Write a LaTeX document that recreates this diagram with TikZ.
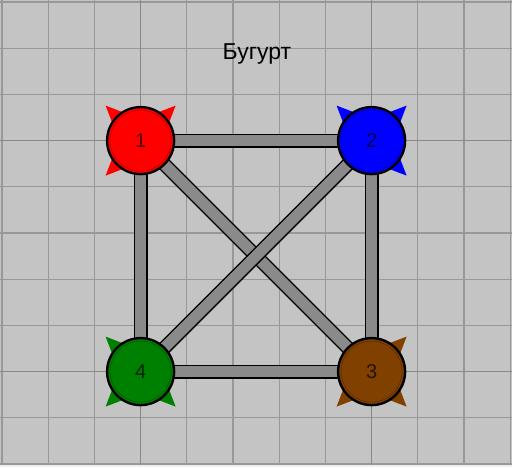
\documentclass[tikz,border=0pt]{standalone}
\usepackage{fontspec}
\setmainfont{Liberation Sans}
\usetikzlibrary{calc}
\pgfdeclarelayer{bg}
\pgfdeclarelayer{mid}
\pgfsetlayers{bg,mid,main}
\definecolor{bgc}{RGB}{196,196,196}
\definecolor{gridc}{RGB}{152,152,152}
\definecolor{gridd}{RGB}{136,136,136}
\definecolor{edgec}{RGB}{138,138,138}
\definecolor{nred}{RGB}{255,0,0}
\definecolor{nblue}{RGB}{0,0,255}
\definecolor{ngreen}{RGB}{0,128,0}
\definecolor{nbrown}{RGB}{128,64,0}
\tikzset{
  vertex/.style={circle, draw=black, line width=2.4pt, minimum size=67pt, inner sep=0pt,
    fill=#1, font=\fontsize{20}{20}\selectfont, text=black, text opacity=0.7},
  bar/.style={draw=black, line width=1.5pt, double=edgec, double distance=11pt},
  title/.style={font=\fontsize{23}{23}\selectfont, text=black}
}
\begin{document}
\begin{tikzpicture}[x=1pt,y=-1pt]
\useasboundingbox (0,0) rectangle (512,467);
% nodes
\node[vertex=nred]   (n1) at (140.6,140.6) {1};
\node[vertex=nblue]  (n2) at (371.6,140.6) {2};
\node[vertex=nbrown] (n3) at (371.6,371.6) {3};
\node[vertex=ngreen] (n4) at (140.6,371.6) {4};
\node[title] (t) at (257,54) {Бугурт};
\foreach \n/\c in {n1/nred,n2/nblue,n3/nbrown,n4/ngreen}{
  \draw[\c!75!black, line width=0.7pt] (\n.center) circle (30.5);
}
\begin{pgfonlayer}{bg}
  \fill[bgc] (0,0) rectangle (512,467);
  \fill[white!94!black] (0,464.5) rectangle (512,467);
  \foreach \k in {0,...,11}{
    \draw[gridc, line width=1.2pt] ({2+46.2*\k},0) -- ({2+46.2*\k},464.5);
  }
  \foreach \k in {0,...,10}{
    \draw[gridc, line width=1.2pt] (0,{2+46.2*\k}) -- (512,{2+46.2*\k});
  }
  \foreach \v in {140.6,371.6}{
    \draw[gridd, line width=1.7pt] (\v,0) -- (\v,464.5);
    \draw[gridd, line width=1.7pt] (0,\v) -- (512,\v);
  }
  \foreach \n/\c in {n1/nred,n2/nblue,n3/nbrown,n4/ngreen}{
    \foreach \a in {45,135,225,315}{
      \fill[\c] ($(\n.center)+(\a:49.5)$) -- ($(\n.center)+(\a-20:29)$) -- ($(\n.center)+(\a+20:29)$) -- cycle;
    }
  }
\end{pgfonlayer}
\begin{pgfonlayer}{mid}
  \draw[bar] (n1.center) -- (n2.center);
  \draw[bar] (n2.center) -- (n3.center);
  \draw[bar] (n3.center) -- (n4.center);
  \draw[bar] (n4.center) -- (n1.center);
  \draw[bar] (n1.center) -- (n3.center);
  \draw[bar] (n4.center) -- (n2.center);
\end{pgfonlayer}
\end{tikzpicture}
\end{document}
